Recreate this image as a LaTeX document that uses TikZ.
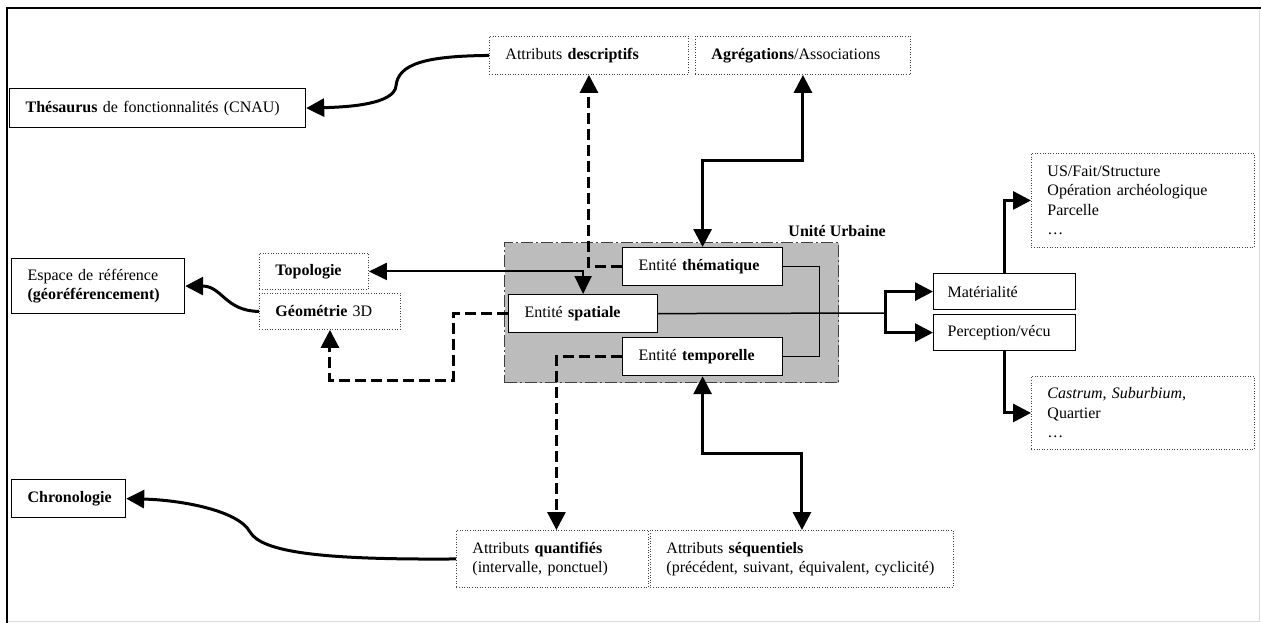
\documentclass[tikz,border=0pt]{standalone}
\usepackage{fontspec}
\setmainfont{Liberation Serif}
\usetikzlibrary{arrows.meta}

\definecolor{grisunite}{RGB}{188,188,188}

\begin{document}
\begin{tikzpicture}[x=1pt,y=-1pt,
  every node/.style={font=\fontsize{16}{19.5}\selectfont},
  plein/.style={draw,line width=1.2pt,anchor=north west,align=left,
    inner xsep=16pt,inner ysep=0pt},
  pointille/.style={plein,draw=black!75,line width=0.9pt,
    dash pattern=on 1pt off 1.6pt},
  fleche/.style={line width=3pt,-{Triangle[length=18pt,width=18pt]}},
  fleche2/.style={line width=3pt,
    {Triangle[length=18pt,width=18pt]}-{Triangle[length=18pt,width=18pt]}},
  tirets/.style={fleche,dash pattern=on 11pt off 5pt},
  fin2/.style={line width=2pt,
    {Triangle[length=18pt,width=17pt]}-{Triangle[length=18pt,width=17pt]}}]

\useasboundingbox (0,0) rectangle (1261,623);

% cadre
\draw[black!15,line width=1pt] (1259,8) -- (1259,621) -- (7,621);
\draw[line width=1.5pt] (7,623) -- (7,8) -- (1261,8);

% unite urbaine
\node[draw=black!75,fill=grisunite,line width=1.2pt,
  dash pattern=on 12pt off 3pt on 2pt off 3pt,anchor=north west,
  minimum width=334pt,minimum height=140pt,inner sep=0pt]
  (unite) at (504,242) {};
\node[anchor=base east,inner sep=0pt] (titre) at (886,236)
  {\textbf{Unité Urbaine}};

% boites
\node[plein,text width=264pt,minimum height=39pt] (thes) at (9,88)
  {\textbf{Thésaurus} de fonctionnalités (CNAU)};
\node[pointille,text width=167pt,minimum height=38pt] (desc) at (489,36)
  {Attributs \textbf{descriptifs}};
\node[pointille,text width=183pt,minimum height=38pt] (agg) at (695,36)
  {\textbf{Agrégations}/Associations};
\node[plein,text width=141pt,minimum height=55pt] (espace) at (11,258)
  {Espace de référence\\\textbf{(géoréférencement)}};
\node[pointille,text width=77pt,minimum height=36pt] (topo) at (259,253)
  {\textbf{Topologie}};
\node[pointille,text width=109pt,minimum height=36pt] (geo) at (259,293)
  {\textbf{Géométrie} 3D};
\node[plein,fill=white,text width=128pt,minimum height=38pt] (them) at (622,247)
  {Entité \textbf{thématique}};
\node[plein,fill=white,text width=117pt,minimum height=38pt] (spat) at (508,294)
  {Entité \textbf{spatiale}};
\node[plein,fill=white,text width=128pt,minimum height=38pt] (temp) at (622,337)
  {Entité \textbf{temporelle}};
\node[plein,text width=114pt,inner xsep=14pt,minimum height=36pt] (mat) at (933,273)
  {Matérialité};
\node[plein,text width=114pt,inner xsep=14pt,minimum height=36pt] (perc) at (933,314)
  {Perception/vécu};
\node[pointille,text width=191pt,minimum height=94pt] (us) at (1031,153)
  {US/Fait/Structure\\Opération archéologique\\Parcelle\\\ldots};
\node[pointille,text width=191pt,minimum height=73pt] (cast) at (1031,376)
  {\textit{Castrum}, \textit{Suburbium},\\Quartier\\\ldots};
\node[pointille,text width=160pt,minimum height=57pt] (quant) at (456,530)
  {Attributs \textbf{quantifiés}\\(intervalle, ponctuel)};
\node[pointille,text width=271pt,minimum height=57pt] (seq) at (650,530)
  {Attributs \textbf{séquentiels}\\(précédent, suivant, équivalent, cyclicité)};
\node[plein,text width=82pt,minimum height=38pt] (chrono) at (11,479)
  {\textbf{Chronologie}};

% liens
\draw[fleche] (desc.west) .. controls (425,56) and (398,64) .. (396,86)
  .. controls (394,104) and (350,107) .. (thes.east);
\draw[tirets] (them.west) -| (desc.south);
\draw[fleche2] (agg.south) -- ++(0,86) -| (them.north);
\draw[fin2] (topo.east) -| (spat.north);
\draw[tirets] (spat.west) -| (453,380) -| (geo.south);
\draw[fleche] (geo.west) .. controls (225,311) and (222,286) .. (espace.east);
\draw[tirets] (temp.west) -| ([xshift=4pt]quant.north);
\draw[fleche2] (temp.south) -- ++(0,77) -| (seq.north);
\draw[fleche] (quant.west) .. controls (320,560) and (262,552) .. (250,532)
  .. controls (238,510) and (180,500) .. (chrono.east);
\draw[line width=1pt] (them.east) -- ++(36,0) |- (temp.east);

\coordinate (jonction) at (885,313);
\draw[line width=1.5pt] (spat.east) -- (jonction);
\draw[fleche] (jonction) |- (mat.west);
\draw[fleche] (jonction) |- (perc.west);
\draw[fleche] (mat.north) |- (us.west);
\draw[fleche] (perc.south) |- (cast.west);

\end{tikzpicture}
\end{document}
